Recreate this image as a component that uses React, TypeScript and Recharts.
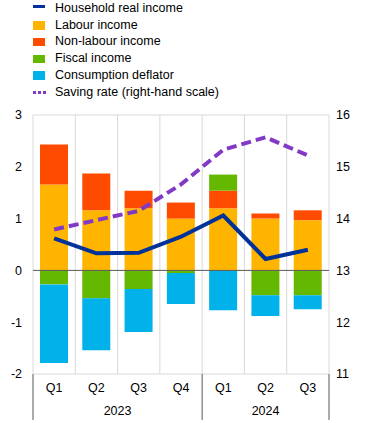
import {
  ComposedChart,
  Bar,
  Line,
  XAxis,
  YAxis,
  CartesianGrid,
  ReferenceLine,
} from "recharts";

const quarters = ["Q1", "Q2", "Q3", "Q4", "Q1", "Q2", "Q3"];
const years = ["2023", "2023", "2023", "2023", "2024", "2024", "2024"];

const labourIncome = [1.66, 1.16, 1.2, 1.0, 1.2, 1.0, 0.97];
const nonLabourIncome = [0.77, 0.71, 0.34, 0.31, 0.34, 0.1, 0.19];
const fiscalIncome = [-0.27, -0.54, -0.36, -0.05, 0.31, -0.48, -0.48];
const consumptionDeflator = [-1.52, -1.0, -0.83, -0.6, -0.77, -0.4, -0.27];
const householdRealIncome = [0.62, 0.33, 0.34, 0.65, 1.06, 0.22, 0.4];
const savingRate = [13.79, 13.97, 14.15, 14.66, 15.33, 15.57, 15.22];

const leftTicks = [-2, -1, 0, 1, 2, 3];
const rightTicks = [11, 12, 13, 14, 15, 16];

const data = quarters.map((q, i) => ({
  period: `${years[i]} ${q}`,
  quarter: q,
  year: years[i],
  labour: labourIncome[i],
  nonLabour: nonLabourIncome[i],
  fiscal: fiscalIncome[i],
  deflator: consumptionDeflator[i],
  realIncome: householdRealIncome[i],
  saving: savingRate[i],
}));

const FONT = "'Liberation Sans', Arial, sans-serif";
const W = 372;
const H = 423;

const legendItems = [
  { label: "Household real income", color: "#003299", kind: "line" },
  { label: "Labour income", color: "#FFB400", kind: "box" },
  { label: "Non-labour income", color: "#FF4B00", kind: "box" },
  { label: "Fiscal income", color: "#65B800", kind: "box" },
  { label: "Consumption deflator", color: "#00B1EA", kind: "box" },
  { label: "Saving rate (right-hand scale)", color: "#8139C6", kind: "dash" },
];

function LegendBlock() {
  return (
    <div style={{ position: "absolute", left: 0, top: 0, fontFamily: FONT, fontSize: 12.5, color: "#000" }}>
      {legendItems.map((item, i) => (
        <div key={item.label} style={{ position: "absolute", top: i * 16.7, left: 0, height: 17, width: 300 }}>
          {item.kind === "box" && (
            <div style={{ position: "absolute", left: 33, top: 4.5, width: 12, height: 8.5, background: item.color }} />
          )}
          {item.kind === "line" && (
            <div style={{ position: "absolute", left: 33, top: 5, width: 12, height: 3, background: item.color }} />
          )}
          {item.kind === "dash" &&
            [0, 5, 10].map((dx) => (
              <div key={dx} style={{ position: "absolute", left: 33 + dx, top: 7.5, width: 3, height: 3, background: item.color }} />
            ))}
          <div style={{ position: "absolute", left: 55, top: 0, lineHeight: "17px", whiteSpace: "nowrap" }}>{item.label}</div>
        </div>
      ))}
    </div>
  );
}

function QuarterTick(props: any) {
  const { x, y, payload, index } = props;
  const off = payload && payload.offset ? payload.offset : (W - 33 - 43) / 14;
  const i = index as number;
  const year = years[i];
  const isFirst = i === 0 || years[i - 1] !== year;
  const isLast = i === years.length - 1;
  const count = years.filter((v) => v === year).length;
  return (
    <g>
      <text x={x} y={y + 18} textAnchor="middle" fontSize={12.5} fontFamily={FONT} fill="#000">
        {quarters[i]}
      </text>
      {isFirst && (
        <>
          <line x1={x - off} x2={x - off} y1={y} y2={y + 46} stroke="#595959" strokeWidth={1} />
          <text x={x - off + count * off} y={y + 41} textAnchor="middle" fontSize={12.5} fontFamily={FONT} fill="#000">
            {year}
          </text>
        </>
      )}
      {isLast && <line x1={x + off} x2={x + off} y1={y} y2={y + 46} stroke="#595959" strokeWidth={1} />}
    </g>
  );
}

export default function App() {
  return (
    <div style={{ position: "absolute", left: 0, top: 0, width: W, height: H, background: "#fff" }}>
      <ComposedChart
        width={W}
        height={H}
        data={data}
        stackOffset="sign"
        margin={{ top: 115, right: 0, left: 0, bottom: 0 }}
        style={{ position: "absolute", left: 0, top: 0 }}
      >
        <CartesianGrid
          stroke="#d9d9d9"
          strokeWidth={1}
          verticalCoordinatesGenerator={({ offset }: any) =>
            Array.from({ length: quarters.length + 1 }, (_, k) => offset.left + (k * offset.width) / quarters.length)
          }
        />
        <XAxis
          dataKey="period"
          xAxisId={0}
          height={49}
          axisLine={false}
          tickLine={false}
          tickSize={0}
          tickMargin={0}
          interval={0}
          tick={<QuarterTick />}
        />
        <YAxis
          yAxisId="left"
          width={33}
          domain={[-2, 3]}
          ticks={leftTicks}
          axisLine={false}
          tickLine={false}
          tickSize={0}
          tickMargin={11}
          tick={{ fontSize: 12.5, fontFamily: FONT, fill: "#000" }}
        />
        <YAxis
          yAxisId="right"
          orientation="right"
          width={43}
          domain={[11, 16]}
          ticks={rightTicks}
          axisLine={false}
          tickLine={false}
          tickSize={0}
          tickMargin={7}
          tick={{ fontSize: 12.5, fontFamily: FONT, fill: "#000", textAnchor: "start" }}
        />
        <Bar yAxisId="left" dataKey="labour" stackId="s" fill="#FFB400" barSize={28} isAnimationActive={false} />
        <Bar yAxisId="left" dataKey="nonLabour" stackId="s" fill="#FF4B00" barSize={28} isAnimationActive={false} />
        <Bar yAxisId="left" dataKey="fiscal" stackId="s" fill="#65B800" barSize={28} isAnimationActive={false} />
        <Bar yAxisId="left" dataKey="deflator" stackId="s" fill="#00B1EA" barSize={28} isAnimationActive={false} />
        <ReferenceLine yAxisId="left" y={0} stroke="#595959" strokeWidth={1} />
        <Line
          yAxisId="left"
          dataKey="realIncome"
          type="linear"
          stroke="#003299"
          strokeWidth={4}
          dot={false}
          isAnimationActive={false}
        />
        <Line
          yAxisId="right"
          dataKey="saving"
          type="linear"
          stroke="#8139C6"
          strokeWidth={4}
          strokeDasharray="10 5"
          dot={false}
          isAnimationActive={false}
        />
      </ComposedChart>
      <LegendBlock />
    </div>
  );
}
